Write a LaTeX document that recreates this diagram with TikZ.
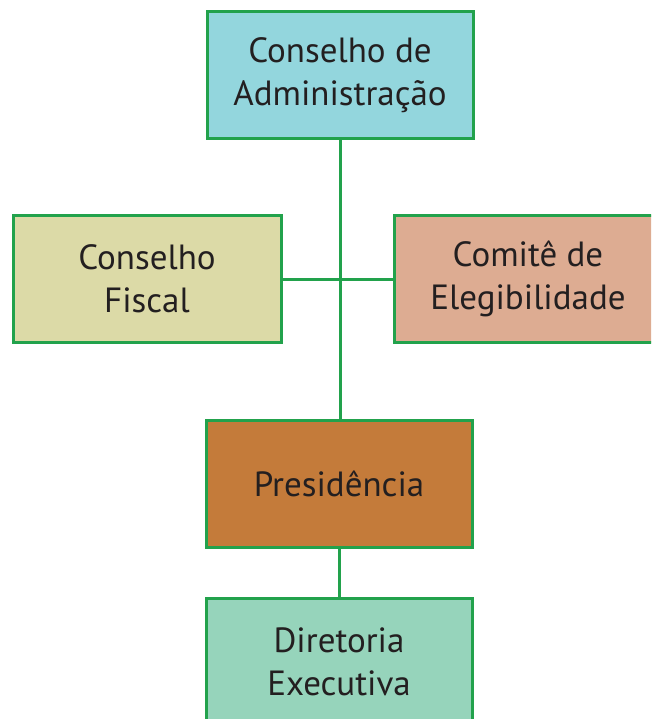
\documentclass[tikz,border=0pt]{standalone}
\usepackage{fontspec}
\setmainfont{PT Sans}
\usepackage{xcolor}
\usetikzlibrary{positioning}

\definecolor{boxline}{HTML}{22A24C}
\definecolor{textdark}{HTML}{231F20}
\definecolor{fillconselho}{HTML}{93D6DD}
\definecolor{fillfiscal}{HTML}{DCDAA7}
\definecolor{fillcomite}{HTML}{DDAC92}
\definecolor{fillpresid}{HTML}{C47B3A}
\definecolor{filldiretoria}{HTML}{96D4BB}

\tikzset{
  orgbox/.style={draw=boxline, line width=3pt, minimum width=266pt,
    minimum height=127pt, inner sep=0pt, align=center, text=textdark,
    font=\fontsize{35}{43}\selectfont},
  orgline/.style={draw=boxline, line width=3pt}
}

\begin{document}
\begin{tikzpicture}[x=1pt,y=-1pt]
        % Frame of the page
        \useasboundingbox (0,0) rectangle (651,719);
        \clip (0,0) rectangle (651,719);
        \fill[white] (0,0) rectangle (651,719);

        % Boxes
        \node[orgbox, fill=fillconselho] (conselho) at (340, 75.5) {Conselho de\\Administração};
        \node[orgbox, fill=fillfiscal, minimum width=268pt] (fiscal) at (147, 279) {Conselho\\Fiscal};
        \node[orgbox, fill=fillcomite, minimum width=268pt] (comite) at (528, 279) {Comitê de\\Elegibilidade};
        \node[orgbox, fill=fillpresid] (presid) at (339, 483.5) {Presidência};
        \node[orgbox, fill=filldiretoria] (diretoria) at (339, 662) {Diretoria\\Executiva};

        % Connectors
        \draw[orgline] (conselho.south) -- (conselho.south |- presid.north);
        \draw[orgline] (fiscal.east) -- (comite.west);
        \draw[orgline] (presid.south) -- (diretoria.north);
    \end{tikzpicture}
\end{document}
